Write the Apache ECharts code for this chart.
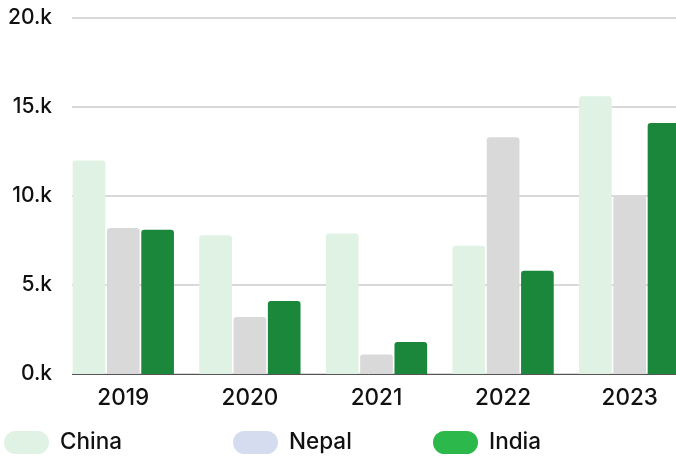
<!DOCTYPE html>
<html>
<head>
<meta charset="utf-8">
<script src="https://cdn.jsdelivr.net/npm/echarts@6/dist/echarts.min.js"></script>
<style>
  html, body { margin: 0; padding: 0; background: #fff; }
  #chart { width: 676px; height: 456px; }
</style>
</head>
<body>
<div id="chart"></div>
<script>
const years = ['2019', '2020', '2021', '2022', '2023'];
const china = [12000, 7800, 7900, 7200, 15600];
const nepal = [8200, 3200, 1100, 13300, 10000];
const india = [8100, 4100, 1800, 5800, 14100];

const font = 'Inter, "Liberation Sans", Arial, sans-serif';
const pill = 'path://M11.5,0 H33.5 A11.5,11.5 0 0 1 33.5,23 H11.5 A11.5,11.5 0 0 1 11.5,0 Z';

const myChart = echarts.init(document.getElementById('chart'));

function legendAt(name, left, color) {
  return {
    data: [{ name: name, itemStyle: { color: color } }],
    left: left,
    top: 431,
    padding: 0,
    itemWidth: 45,
    itemHeight: 23,
    itemGap: 0,
    icon: pill,
    textStyle: { fontFamily: font, fontSize: 22.5, fontWeight: 500, color: '#111', padding: [0, 0, 0, 6] },
  };
}

const option = {
  animation: false,
  grid: {
    left: 60,
    top: 18,
    right: -17,
    bottom: 82,
    outerBoundsMode: 'none',
  },
  legend: [
    legendAt('China', 4, '#dff2e3'),
    legendAt('Nepal', 233, '#d6dcef'),
    legendAt('India', 433, '#2db84b'),
  ],
  // the grid lines in the original start at the first bar, not at the band edge
  graphic: [
    {
      type: 'rect',
      left: 59,
      top: 14,
      shape: { width: 13, height: 364 },
      style: { fill: '#fff' },
      z: 100,
    },
  ],
  xAxis: {
    type: 'category',
    data: years,
    axisTick: { show: false },
    axisLine: { lineStyle: { color: '#555', width: 1 } },
    axisLabel: { fontFamily: font, fontSize: 22.5, fontWeight: 500, color: '#111', margin: 13 },
  },
  yAxis: {
    type: 'value',
    min: 0,
    max: 20000,
    interval: 5000,
    axisLabel: {
      fontFamily: font,
      fontSize: 21,
      fontWeight: 500,
      color: '#111',
      margin: 8,
      formatter: (v) => (v / 1000) + '.k',
    },
    splitLine: { lineStyle: { color: '#ccc', width: 1.5 } },
  },
  series: [
    {
      name: 'China',
      type: 'bar',
      data: china,
      barGap: '5%',
      barCategoryGap: '20%',
      itemStyle: { color: '#dff2e3', borderRadius: [3, 3, 0, 0] },
    },
    {
      name: 'Nepal',
      type: 'bar',
      data: nepal,
      itemStyle: { color: '#d9d9d9', borderRadius: [3, 3, 0, 0] },
    },
    {
      name: 'India',
      type: 'bar',
      data: india,
      itemStyle: { color: '#1b873a', borderRadius: [3, 3, 0, 0] },
    },
  ],
};
myChart.setOption(option);
</script>
</body>
</html>
